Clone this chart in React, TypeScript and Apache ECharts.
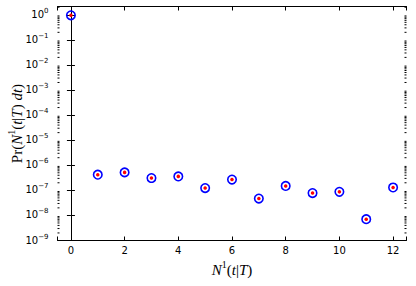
import React, { useEffect, useRef } from "react";
import * as echarts from "echarts";

// Data
const xValues = [0, 1, 2, 3, 4, 5, 6, 7, 8, 9, 10, 11, 12];
const probValues = [
  0.95, 4.2e-7, 5.2e-7, 3.1e-7, 3.6e-7, 1.23e-7, 2.7e-7, 4.7e-8, 1.5e-7, 7.8e-8, 8.7e-8, 7.1e-9, 1.3e-7,
];
const X_MIN = -0.5;
const X_MAX = 12.5;
const Y_MIN = 1e-9;
const Y_MAX = 2.14;
const decadeExponents = [-9, -8, -7, -6, -5, -4, -3, -2, -1, 0];
const minorMultipliers = [2, 3, 4, 5, 6, 7, 8, 9];

const TICK_FONT = "DejaVu Sans";
const MATH_FONT = "Liberation Serif";

export default function App() {
  const ref = useRef<HTMLDivElement>(null);

  useEffect(() => {
    if (!ref.current) return;
    const chart = echarts.init(ref.current, undefined, { renderer: "svg" });

    const points = xValues.map((x, i) => [x, probValues[i]]);
    const minorTicks: number[][] = [];
    decadeExponents.forEach((e) => {
      minorMultipliers.forEach((m) => {
        const v = m * Math.pow(10, e);
        if (v > Y_MIN && v < Y_MAX) minorTicks.push([X_MIN, v]);
      });
    });

    const yLabelFormatter = (v: number) => {
      const l = Math.log10(v);
      const n = Math.round(l);
      if (Math.abs(l - n) > 1e-6) return "";
      const exp = n < 0 ? "\u2212" + Math.abs(n) : String(n);
      return `{b|10}{s|${exp}}`;
    };

    const xLabelFormatter = (v: number) => (Math.abs(v - Math.round(v)) > 1e-6 ? "" : String(v));

    const axisLineStyle = { show: true, lineStyle: { color: "#000", width: 1 } };
    const mathRich = {
      i: { fontFamily: MATH_FONT, fontStyle: "italic", fontSize: 15, color: "#000", lineHeight: 18, verticalAlign: "bottom" },
      r: { fontFamily: MATH_FONT, fontSize: 15, color: "#000", lineHeight: 18, verticalAlign: "bottom" },
      s: { fontFamily: MATH_FONT, fontSize: 10, color: "#000", lineHeight: 18, verticalAlign: "top" },
    };

    const option: any = {
      animation: false,
      backgroundColor: "#fff",
      grid: {
        left: 57.5,
        right: 9.5,
        top: 6.5,
        bottom: 45.5,
        containLabel: false,
        outerBoundsMode: "none",
      },
      xAxis: [
        {
          type: "value",
          position: "bottom",
          min: X_MIN,
          max: X_MAX,
          splitNumber: 6,
          axisLine: axisLineStyle,
          axisTick: { show: true, inside: true, length: 4, lineStyle: { color: "#000", width: 1 } },
          splitLine: { show: false },
          axisLabel: {
            show: true,
            formatter: xLabelFormatter,
            color: "#000",
            fontFamily: TICK_FONT,
            fontSize: 10,
            margin: 5,
            showMinLabel: true,
            showMaxLabel: true,
          },
          name: "{i|N}{s|1}{r|(}{i|t}{r||}{i|T}{r|)}",
          nameLocation: "middle",
          nameGap: 19,
          nameMoveOverlap: false,
          nameTextStyle: { color: "#000", rich: mathRich },
        },
        {
          type: "value",
          position: "top",
          min: X_MIN,
          max: X_MAX,
          splitNumber: 6,
          axisLine: axisLineStyle,
          axisTick: { show: true, inside: true, length: 4, lineStyle: { color: "#000", width: 1 } },
          splitLine: { show: false },
          axisLabel: { show: false },
        },
      ],
      yAxis: [
        {
          type: "log",
          logBase: 10,
          position: "left",
          min: Y_MIN,
          max: Y_MAX,
          splitNumber: 10,
          axisLine: axisLineStyle,
          axisTick: { show: true, inside: true, length: 4, lineStyle: { color: "#000", width: 1 } },
          minorTick: { show: false },
          splitLine: { show: false },
          axisLabel: {
            show: true,
            formatter: yLabelFormatter,
            margin: 9,
            padding: [0, 0, 3, 0],
            showMinLabel: true,
            showMaxLabel: true,
            rich: {
              b: { fontFamily: TICK_FONT, fontSize: 10, color: "#000", lineHeight: 12, verticalAlign: "bottom" },
              s: { fontFamily: TICK_FONT, fontSize: 7, color: "#000", lineHeight: 12, verticalAlign: "top" },
            },
          },
          name: "{r|Pr(}{i|N}{s|1}{r|(}{i|t}{r||}{i|T}{r|) }{i|dt}{r|)}",
          nameLocation: "middle",
          nameGap: 33,
          nameRotate: 90,
          nameMoveOverlap: false,
          nameTextStyle: { color: "#000", rich: mathRich },
        },
        {
          type: "log",
          logBase: 10,
          position: "right",
          min: Y_MIN,
          max: Y_MAX,
          splitNumber: 10,
          axisLine: axisLineStyle,
          axisTick: { show: true, inside: true, length: 4, lineStyle: { color: "#000", width: 1 } },
          splitLine: { show: false },
          axisLabel: { show: false },
        },
      ],
      series: [
        {
          type: "custom",
          xAxisIndex: 0,
          yAxisIndex: 0,
          clip: false,
          silent: true,
          data: minorTicks,
          renderItem: (params: any, api: any) => {
            const v = api.value(1);
            const pl = api.coord([X_MIN, v]);
            const pr = api.coord([X_MAX, v]);
            return {
              type: "group",
              children: [
                { type: "line", shape: { x1: pl[0], y1: pl[1], x2: pl[0] + 2, y2: pl[1] }, style: { stroke: "#000", lineWidth: 1 } },
                { type: "line", shape: { x1: pr[0] - 2, y1: pr[1], x2: pr[0], y2: pr[1] }, style: { stroke: "#000", lineWidth: 1 } },
              ],
            };
          },
          z: 1,
        },
        {
          type: "scatter",
          xAxisIndex: 0,
          yAxisIndex: 0,
          data: points,
          symbol: "circle",
          symbolSize: 8.5,
          itemStyle: { color: "rgba(0,0,0,0)", borderColor: "#0000ff", borderWidth: 1.6, opacity: 1 },
          z: 3,
        },
        {
          type: "scatter",
          xAxisIndex: 0,
          yAxisIndex: 0,
          data: points,
          symbol: "circle",
          symbolSize: 3.5,
          itemStyle: { color: "#ff0000", borderWidth: 0, opacity: 1 },
          z: 4,
        },
      ],
    };

    chart.setOption(option);
    return () => chart.dispose();
  }, []);

  return (
    <div
      ref={ref}
      style={{ position: "fixed", left: 0, top: 0, width: 416, height: 286, background: "#fff" }}
    />
  );
}
